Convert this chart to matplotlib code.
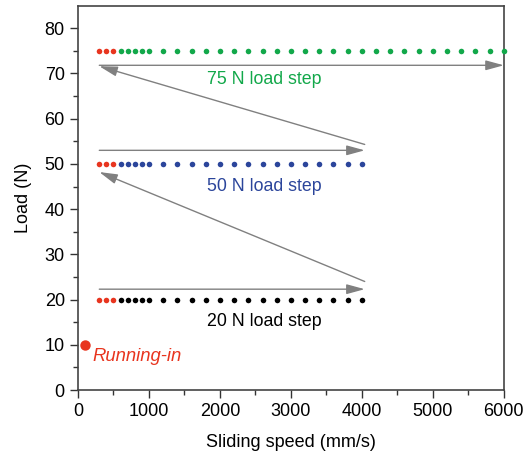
import matplotlib
matplotlib.use("Agg")
import matplotlib.pyplot as plt

plt.rcParams['font.family'] = ['Liberation Sans', 'DejaVu Sans']

# speeds used at each load step (mm/s)
speeds_low = [300, 400, 500]
speeds_20 = [600, 700, 800, 900, 1000, 1200, 1400, 1600, 1800, 2000, 2200,
             2400, 2600, 2800, 3000, 3200, 3400, 3600, 3800, 4000]
speeds_50 = speeds_20
speeds_75 = speeds_20 + [4200, 4400, 4600, 4800, 5000, 5200, 5400, 5600,
                         5800, 6000]
loads = [20, 50, 75]
running_in = (100, 10)

RED = '#e8351f'
GREEN = '#12a84a'
BLUE = '#2b459b'
GRAY = '#808080'

fig = plt.figure(figsize=(5.27, 4.66), dpi=100)
ax = fig.add_axes([0.148, 0.163, 0.808, 0.825])

ms = 4.0
for load, spd, col in [(20, speeds_20, 'black'), (50, speeds_50, BLUE),
                       (75, speeds_75, GREEN)]:
    ax.plot(spd, [load] * len(spd), 'o', color=col, ms=ms, mec='none',
            clip_on=False, zorder=3)
    ax.plot(speeds_low, [load] * len(speeds_low), 'o', color=RED, ms=ms,
            mec='none', zorder=3)

ax.plot(*running_in, 'o', color=RED, ms=7.5, mec='none', zorder=3)

# load sequence arrows
arrows = [
    ((300, 22.3), (4040, 22.3)),
    ((4040, 24.0), (300, 48.2)),
    ((300, 53.0), (4040, 53.0)),
    ((4040, 54.3), (300, 71.6)),
    ((300, 71.8), (6000, 71.8)),
]
for start, end in arrows:
    ax.annotate('', xy=end, xytext=start,
                arrowprops=dict(arrowstyle='-|>,head_length=1.1,head_width=0.3',
                                color=GRAY, lw=1.0, shrinkA=0, shrinkB=0))

ax.text(2630, 68.7, '75 N load step', color=GREEN, fontsize=12.8,
        ha='center', va='center')
ax.text(2630, 45.0, '50 N load step', color=BLUE, fontsize=12.8,
        ha='center', va='center')
ax.text(2630, 15.1, '20 N load step', color='black', fontsize=12.8,
        ha='center', va='center')
ax.text(200, 7.5, 'Running-in', color=RED, fontsize=13.3, style='italic',
        ha='left', va='center')

ax.set_xlim(0, 6000)
ax.set_ylim(0, 85)
ax.set_xticks(range(0, 6001, 1000))
ax.set_xticks(range(500, 6000, 1000), minor=True)
ax.set_yticks(range(0, 81, 10))
ax.set_yticks(range(5, 81, 10), minor=True)
ax.tick_params(which='both', direction='out', labelsize=13, width=1.0,
               color='#333333')
ax.tick_params(which='major', length=6)
ax.tick_params(which='minor', length=3.5)
for s in ax.spines.values():
    s.set_linewidth(1.2)
    s.set_color('#444444')

ax.set_xlabel('Sliding speed (mm/s)', fontsize=13, labelpad=10)
ax.set_ylabel('Load (N)', fontsize=13, labelpad=9)

fig.savefig('out.png', dpi=100)
